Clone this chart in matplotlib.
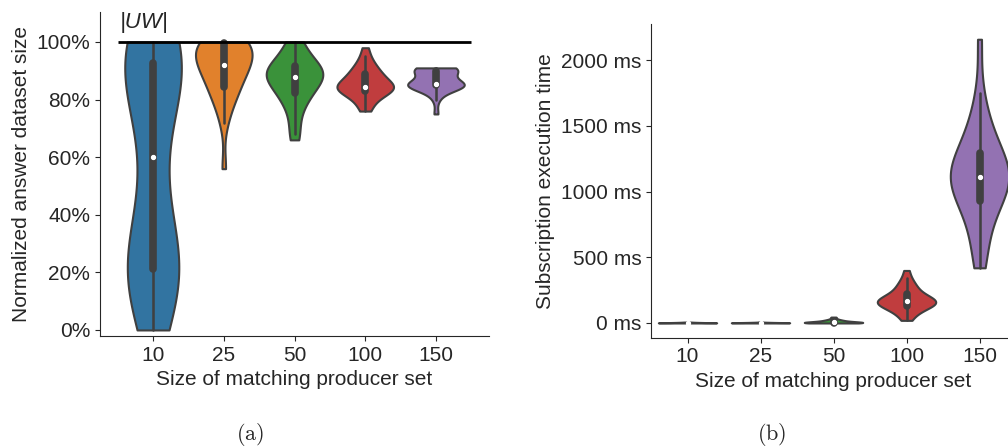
import matplotlib
matplotlib.use('Agg')
import matplotlib.pyplot as plt
import pandas as pd
import seaborn as sns
from matplotlib.ticker import FuncFormatter

sizes = ['10', '25', '50', '100', '150']

# (a) answer dataset size, as a fraction of |UW|
answer_10 = [0.0, 0.03, 0.12, 0.15, 0.17, 0.19, 0.2, 0.21, 0.22, 0.24,
             0.26, 0.3, 0.36, 0.45, 0.55, 0.65, 0.72, 0.8, 0.85, 0.88,
             0.9, 0.92, 0.93, 0.95, 0.96, 0.97, 0.98, 1.0, 1.0, 1.0]
answer_25 = [0.56, 0.72, 0.76, 0.79, 0.81, 0.83, 0.835, 0.84, 0.86, 0.88,
             0.89, 0.9, 0.91, 0.92, 0.92, 0.92, 0.93, 0.94, 0.95, 0.96,
             0.97, 0.98, 1.0, 1.0, 1.0, 1.0, 1.0, 1.0, 1.0, 1.0]
answer_50 = [0.66, 0.68, 0.72, 0.76, 0.78, 0.8, 0.81, 0.82, 0.83, 0.84,
             0.85, 0.86, 0.87, 0.87, 0.88, 0.88, 0.89, 0.89, 0.9, 0.9,
             0.9, 0.91, 0.92, 0.92, 0.93, 0.94, 0.96, 0.98, 1.0, 1.0]
answer_100 = [0.76, 0.77, 0.79, 0.8, 0.81, 0.82, 0.83, 0.83, 0.83, 0.84,
              0.84, 0.84, 0.84, 0.84, 0.84, 0.85, 0.85, 0.86, 0.86, 0.87,
              0.88, 0.88, 0.89, 0.89, 0.9, 0.91, 0.92, 0.93, 0.95, 0.98]
answer_150 = [0.75, 0.8, 0.82, 0.83, 0.84, 0.845, 0.845, 0.85, 0.85, 0.85,
              0.85, 0.85, 0.85, 0.85, 0.85, 0.86, 0.86, 0.87, 0.88, 0.89,
              0.89, 0.9, 0.9, 0.9, 0.91, 0.91, 0.91, 0.91, 0.91, 0.91]

# (b) subscription execution time in ms
time_10 = [0, 0, 0, 0, 1, 1, 1, 1, 1, 1, 1, 1, 2, 2, 2,
           2, 2, 2, 2, 3, 3, 3, 3, 4, 4, 4, 5, 5, 6, 7]
time_25 = [0, 0, 0, 0, 1, 1, 1, 1, 1, 1, 1, 2, 2, 2, 2,
           2, 2, 2, 3, 3, 3, 3, 3, 4, 4, 4, 5, 5, 6, 8]
time_50 = [0, 0, 0, 1, 1, 1, 2, 2, 2, 3, 3, 4, 4, 5, 5,
           6, 7, 8, 9, 10, 12, 14, 16, 18, 20, 22, 25, 30, 38, 45]
time_100 = [20, 45, 70, 90, 105, 115, 125, 130, 135, 140,
            150, 155, 160, 160, 165, 170, 170, 175, 180, 190,
            200, 210, 225, 240, 255, 270, 290, 310, 340, 400]
time_150 = [420, 500, 600, 700, 800, 850, 900, 920, 950, 1000,
            1030, 1060, 1080, 1100, 1100, 1120, 1140, 1160, 1180, 1200,
            1230, 1270, 1300, 1350, 1400, 1450, 1500, 1600, 1750, 2160]

colors = ['#1f77b4', '#ff7f0e', '#2ca02c', '#d62728', '#9467bd']


def long_form(groups):
    rows = []
    for size, vals in zip(sizes, groups):
        rows += [(size, v) for v in vals]
    return pd.DataFrame(rows, columns=['size', 'value'])


def violins(ax, df):
    sns.violinplot(data=df, x='size', y='value', hue='size', order=sizes,
                   hue_order=sizes, palette=colors, legend=False, cut=0,
                   density_norm='width', inner='box', linewidth=1.5,
                   linecolor='.25', saturation=0.75,
                   inner_kws=dict(marker='o', box_width=5.5, markersize=3,
                                  markeredgewidth=0.8),
                   ax=ax)


sns.set_style('ticks')
plt.rcParams['font.family'] = ['Liberation Sans', 'DejaVu Sans']
plt.rcParams['font.size'] = 15

fig = plt.figure(figsize=(10.08, 4.48), dpi=100)
ax1 = fig.add_axes([100 / 1008, 112 / 448, 389 / 1008, 324 / 448])
ax2 = fig.add_axes([651 / 1008, 110.3 / 448, 365 / 1008, 313.7 / 448])

# --- (a) normalized answer size
violins(ax1, long_form([answer_10, answer_25, answer_50, answer_100, answer_150]))
ax1.hlines(1.0, -0.5, 4.5, color='black', linewidth=2, zorder=5)
ax1.text(-0.47, 1.03, '|UW|', style='italic', fontsize=16, color='#262626',
         va='bottom', ha='left')
ax1.set_xlim(-0.75, 4.75)
ax1.set_ylim(-0.021, 1.104)
ax1.set_yticks([0, 0.2, 0.4, 0.6, 0.8, 1.0])
ax1.yaxis.set_major_formatter(FuncFormatter(lambda v, p: f'{v * 100:.0f}%'))
ax1.set_xlabel('Size of matching producer set')
ax1.set_ylabel('Normalized answer dataset size')

# --- (b) execution time
violins(ax2, long_form([time_10, time_25, time_50, time_100, time_150]))
ax2.set_xlim(-0.5, 4.5)
ax2.set_ylim(-112, 2276)
ax2.set_yticks([0, 500, 1000, 1500, 2000])
ax2.yaxis.set_major_formatter(FuncFormatter(lambda v, p: f'{v:.0f} ms'))
ax2.set_xlabel('Size of matching producer set')
ax2.set_ylabel('Subscription execution time')

for ax in (ax1, ax2):
    sns.despine(ax=ax)

fig.text(250 / 1008, 1 - 434 / 448, r'$\mathrm{(a)}$', math_fontfamily='cm',
         fontsize=16, ha='center', va='center')
fig.text(772 / 1008, 1 - 434 / 448, r'$\mathrm{(b)}$', math_fontfamily='cm',
         fontsize=16, ha='center', va='center')

fig.savefig('out.png', dpi=100)
